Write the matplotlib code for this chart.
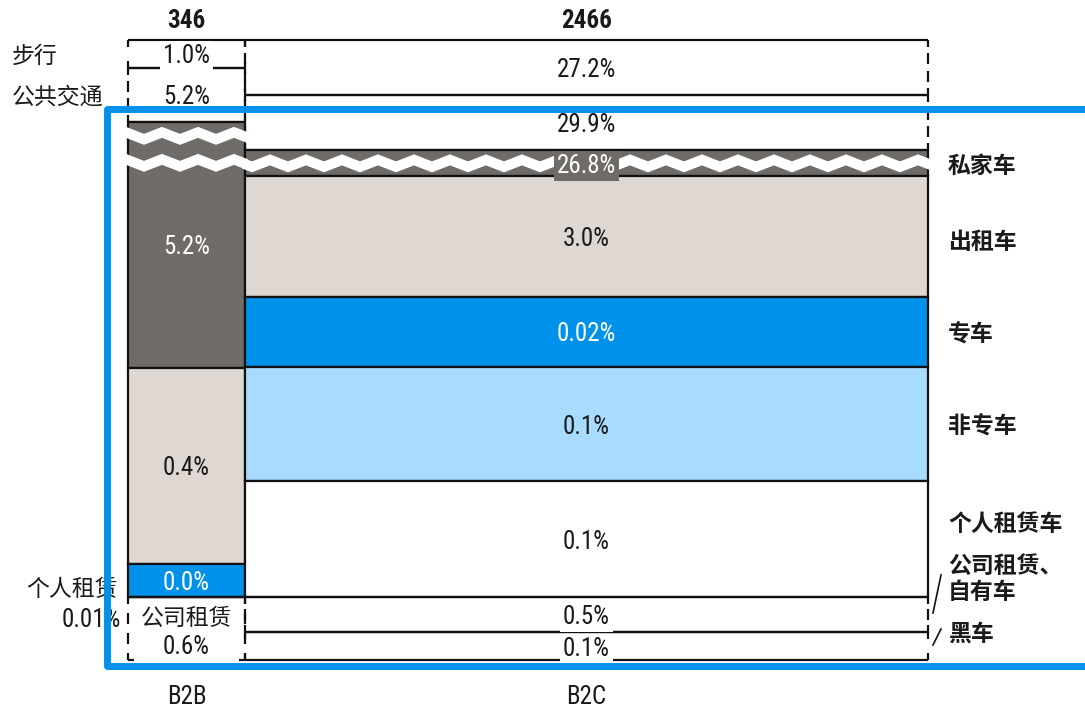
import numpy as np
import matplotlib
matplotlib.use("Agg")
import matplotlib.pyplot as plt
from matplotlib import font_manager
from matplotlib.patches import Polygon, Rectangle

# ---------------- data ----------------
columns = ["B2B", "B2C"]
column_totals = [346, 2466]

# B2B segments, listed top to bottom
b2b_modes = ["步行", "公共交通", "私家车", "出租车", "专车", "个人租赁车", "公司租赁、自有车"]
b2b_names = ["步行", "公共交通", "私家车", "出租车", "专车", "个人租赁", "公司租赁"]
b2b_share = [4.5, 8.7, 39.7, 31.6, 5.3, 0.0, 10.2]        # % of column height
b2b_rate = ["1.0%", "5.2%", "5.2%", "0.4%", "0.0%", "0.01%", "0.6%"]

# B2C segments, listed top to bottom
b2c_modes = ["步行", "公共交通", "私家车", "出租车", "专车", "非专车",
             "个人租赁车", "公司租赁、自有车", "黑车"]
b2c_names = ["步行", "公共交通", "私家车", "出租车", "专车", "非专车",
             "个人租赁车", "公司租赁、\n自有车", "黑车"]
b2c_share = [8.9, 8.9, 4.2, 19.4, 11.3, 18.5, 18.7, 5.6, 4.5]
b2c_rate = ["27.2%", "29.9%", "26.8%", "3.0%", "0.02%", "0.1%", "0.1%", "0.5%", "0.1%"]

# ---------------- styles ----------------
FILLS = {
    "步行": None, "公共交通": None,
    "私家车": "#6F6B69", "出租车": "#DFD7D1", "专车": "#0091EA",
    "非专车": "#A7DCFF", "个人租赁车": "#FFFFFF",
    "公司租赁、自有车": None, "黑车": None,
}
LIGHT_TEXT = {"私家车", "专车"}
EDGE = "#111111"
TEXT = "#1A1A1A"
FRAME = "#0091EA"
LW = 1.6

names_available = {f.name for f in font_manager.fontManager.ttflist}
NUM_FONT = next((n for n in ["Liberation Sans Narrow", "Arial Narrow", "Roboto Condensed"]
                 if n in names_available), "Liberation Sans")
NARROW = NUM_FONT != "Liberation Sans"
NUM_SIZE = 18 if NARROW else 15.5
CJK = "Noto Sans CJK SC"
CJK_SIZE = 16.5
NUM_DY = 2.5     # optical centring of digits
CJK_DY = 2.5

# ---------------- layout (pixel-like canvas) ----------------
W, H = 1085, 708
COL_X = [128, 245]
COL_W = [117, 683]
TOP, BOTTOM = 40, 660
PX = (BOTTOM - TOP) / 100.0
BREAKS = {("B2B", "私家车"): [14, 41], ("B2C", "私家车"): [13]}
RIGHT_LABEL_SHIFT = {"私家车": 1, "出租车": 3, "专车": 1, "个人租赁车": -17,
                     "公司租赁、自有车": -38, "黑车": -14}

fig = plt.figure(figsize=(W / 100, H / 100), dpi=100)
ax = fig.add_axes([0, 0, 1, 1])
ax.set_xlim(0, W)
ax.set_ylim(H, 0)
ax.axis("off")


def tri(x, period=36.0, amp=3.5):
    ph = (x % period) / period
    return amp * (4 * np.abs(ph - 0.5) - 1)


def wave_break(x0, x1, yc):
    xs = np.arange(x0 - 3, x1 + 3.5, 1.0)
    off = tri(xs)
    top = yc - 5.5 + off
    bot = yc + 5.5 + off
    pts = np.column_stack([np.r_[xs, xs[::-1]], np.r_[top, bot[::-1]]])
    ax.add_patch(Polygon(pts, closed=True, fc="white", ec="none", zorder=3))


def dashed_side(x, y0, y1, tick=7, dash=11, gap=9):
    ax.plot([x, x], [y0, y0 + tick], color=EDGE, lw=LW, zorder=2, solid_capstyle="butt")
    ax.plot([x, x], [y1 - tick, y1], color=EDGE, lw=LW, zorder=2, solid_capstyle="butt")
    a, b = y0 + tick, y1 - tick
    L = b - a
    n = int(round((L - gap) / (dash + gap)))
    if n > 0:
        g = (L - n * dash) / (n + 1)
        for k in range(n):
            s = a + g + k * (dash + g)
            ax.plot([x, x], [s, s + dash], color=EDGE, lw=LW, zorder=2,
                    solid_capstyle="butt")


def num_text(x, y, s, color=TEXT, box=None, **kw):
    bbox = None
    if box is not None:
        bbox = dict(boxstyle="square,pad=0.12", fc=box, ec="none")
    ax.text(x, y + NUM_DY, s, ha=kw.pop("ha", "center"), va="center", color=color,
            fontsize=NUM_SIZE, family=NUM_FONT, bbox=bbox, zorder=4, **kw)


def cjk_text(x, y, s, bold=False, **kw):
    ax.text(x, y + CJK_DY, s, va="center", color=TEXT, fontsize=CJK_SIZE,
            family=[CJK, "DejaVu Sans"], fontweight="bold" if bold else "normal",
            zorder=4, **kw)


def segments(shares):
    h = np.asarray(shares, dtype=float) * PX
    tops = TOP + np.concatenate([[0.0], np.cumsum(h)[:-1]])
    return tops, h


def draw_column(ci, modes, shares):
    col = columns[ci]
    x0, w = COL_X[ci], COL_W[ci]
    x1 = x0 + w
    tops, hs = segments(shares)
    for m, y0, hh in zip(modes, tops, hs):
        y1 = y0 + hh
        fill = FILLS[m]
        if fill is None:
            ax.hlines([y0, y1], x0, x1, colors=EDGE, lw=LW, zorder=2)
            for xs in (x0, x1):
                dashed_side(xs, y0, y1)
        else:
            ax.bar(x0, hh, bottom=y0, width=w, align="edge", color=fill,
                   edgecolor=EDGE, linewidth=LW, zorder=2)
        for off in BREAKS.get((col, m), []):
            wave_break(x0, x1, y0 + off)
    return tops, hs


# ---- B2B column ----
tops, hs = draw_column(0, b2b_modes, b2b_share)
x0, w = COL_X[0], COL_W[0]
cx = x0 + w / 2
for m, nm, r, y0, hh in zip(b2b_modes, b2b_names, b2b_rate, tops, hs):
    yc = y0 + hh / 2
    if m in ("步行", "公共交通"):
        cjk_text(12, yc, nm, ha="left")
        num_text(cx, yc, r, box="white")
    elif m == "个人租赁车":
        cjk_text(x0 - 10, y0 - 10, nm, ha="right")
        num_text(x0 - 7, y0 + 21, r, ha="right")
    elif m == "公司租赁、自有车":
        # white backdrop for the two-line label inside the open segment
        ax.add_patch(Rectangle((x0 + 6, y0 + 4), w - 12, hh - 2, fc="white",
                               ec="none", zorder=3))
        cjk_text(cx, y0 + 19, nm, ha="center")
        num_text(cx, y0 + 48, r)
    else:
        num_text(cx, yc, r, color="white" if m in LIGHT_TEXT else TEXT)

# ---- B2C column ----
tops, hs = draw_column(1, b2c_modes, b2c_share)
cx = COL_X[1] + COL_W[1] / 2
xr = COL_X[1] + COL_W[1]
for m, nm, r, y0, hh in zip(b2c_modes, b2c_names, b2c_rate, tops, hs):
    yc = y0 + hh / 2
    fill = FILLS[m]
    if fill is None:
        num_text(cx, yc, r, box="white")
    elif m == "私家车":
        num_text(cx, yc, r, color="white", box=fill)
    else:
        num_text(cx, yc, r, color="white" if m in LIGHT_TEXT else TEXT)
    if m in RIGHT_LABEL_SHIFT or m == "非专车":
        cjk_text(xr + 20, yc + RIGHT_LABEL_SHIFT.get(m, 0), nm, bold=True,
                 ha="left", linespacing=1.2)

# leader strokes for the two thin bottom segments
ax.plot([xr + 5, xr + 13], [613, 575], color=EDGE, lw=1.2, zorder=4)
ax.plot([xr + 5, xr + 13], [645, 629], color=EDGE, lw=1.2, zorder=4)

# ---- column totals and names ----
for ci, (name, total) in enumerate(zip(columns, column_totals)):
    xc = COL_X[ci] + COL_W[ci] / 2
    ax.text(xc, 18 + NUM_DY, f"{total}", ha="center", va="center", fontsize=NUM_SIZE,
            family=NUM_FONT, fontweight="bold", color=TEXT)
    ax.text(xc, 695 + NUM_DY, name, ha="center", va="center", fontsize=NUM_SIZE,
            family=NUM_FONT, color=TEXT)

# ---- highlight frame ----
ax.plot([W + 20, 107, 107, W + 20], [109, 109, 666, 666], color=FRAME, lw=5,
        solid_joinstyle="round", zorder=6, clip_on=False)

fig.savefig("out.png", dpi=100)
